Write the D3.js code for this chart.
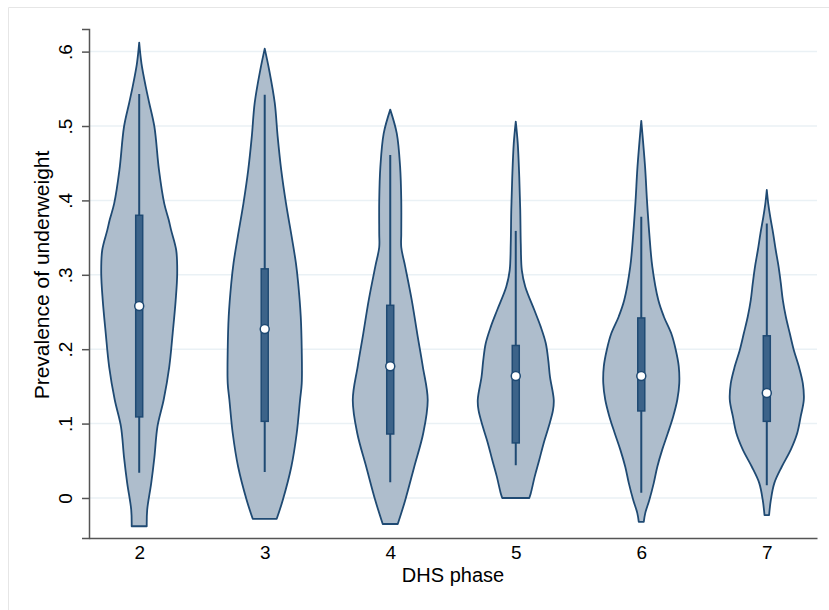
<!DOCTYPE html>
<html>
<head>
<meta charset="utf-8">
<script src="https://cdn.jsdelivr.net/npm/d3@7"></script>
<style>
	body { margin: 0; background: #fff; }
	text { font-family: "Liberation Sans", Arial, Helvetica, sans-serif; fill: #000; }
</style>
</head>
<body>
<div id="chart-area"></div>
<script>
/*
*    violin plot - prevalence of underweight by DHS phase
*/

const MARGIN = { LEFT: 89, RIGHT: 12, TOP: 29, BOTTOM: 72 }
const WIDTH = 829 - MARGIN.LEFT - MARGIN.RIGHT
const HEIGHT = 610 - MARGIN.TOP - MARGIN.BOTTOM

// categories
const phases = [2, 3, 4, 5, 6, 7]
const yTicks = [0, 0.1, 0.2, 0.3, 0.4, 0.5, 0.6]
const yTickLabels = ["0", ".1", ".2", ".3", ".4", ".5", ".6"]

// box plot stats per phase
const whiskLow = [0.034, 0.035, 0.021, 0.044, 0.007, 0.017]
const q1 = [0.109, 0.103, 0.086, 0.074, 0.117, 0.103]
const medians = [0.258, 0.227, 0.177, 0.164, 0.164, 0.141]
const q3 = [0.380, 0.308, 0.259, 0.205, 0.242, 0.218]
const whiskHigh = [0.543, 0.542, 0.461, 0.359, 0.378, 0.369]

// density [value, density] from top to bottom, per phase
const density2 = [[0.612, 0], [0.584, 0.3], [0.553, 0.86], [0.531, 1.32], [0.499, 2.0], [0.441, 2.6], [0.396, 3.29], [0.374, 3.88], [0.360, 4.2], [0.333, 4.87], [0.302, 5.0], [0.266, 4.8], [0.222, 4.41], [0.176, 3.95], [0.132, 3.22], [0.096, 2.4], [0.055, 2.0], [0.020, 1.58], [-0.016, 1.05], [-0.038, 0.99]]
const density3 = [[0.604, 0], [0.575, 0.59], [0.531, 1.32], [0.486, 1.7], [0.441, 2.17], [0.396, 2.8], [0.351, 3.55], [0.316, 4.1], [0.289, 4.4], [0.244, 4.74], [0.199, 4.87], [0.154, 4.87], [0.132, 4.65], [0.087, 4.21], [0.042, 3.5], [-0.003, 2.37], [-0.028, 1.58]]
const density4 = [[0.522, 0], [0.490, 0.86], [0.445, 1.3], [0.400, 1.45], [0.356, 1.45], [0.337, 1.45], [0.311, 1.97], [0.266, 2.83], [0.221, 3.55], [0.177, 4.28], [0.132, 4.93], [0.087, 4.34], [0.042, 3.16], [-0.003, 1.97], [-0.035, 0.99]]
const density5 = [[0.506, 0], [0.477, 0.26], [0.432, 0.46], [0.387, 0.59], [0.342, 0.66], [0.306, 0.8], [0.284, 1.25], [0.253, 2.43], [0.230, 3.29], [0.208, 3.95], [0.185, 4.28], [0.163, 4.5], [0.132, 5.0], [0.118, 4.9], [0.096, 4.34], [0.074, 3.68], [0.051, 3.09], [0.029, 2.5], [0.006, 1.97], [0.0, 1.78]]
const density6 = [[0.507, 0], [0.445, 0.5], [0.400, 0.75], [0.356, 1.05], [0.311, 1.45], [0.266, 2.24], [0.244, 2.96], [0.221, 3.95], [0.199, 4.54], [0.177, 4.93], [0.154, 5.0], [0.132, 4.74], [0.110, 4.21], [0.087, 3.49], [0.065, 2.76], [0.042, 2.11], [0.020, 1.64], [-0.003, 1.05], [-0.020, 0.53], [-0.032, 0.33]]
const density7 = [[0.414, 0], [0.395, 0.2], [0.378, 0.45], [0.356, 0.83], [0.333, 1.18], [0.311, 1.55], [0.289, 1.84], [0.266, 2.11], [0.244, 2.5], [0.221, 3.03], [0.199, 3.55], [0.177, 4.21], [0.154, 4.74], [0.132, 4.87], [0.110, 4.47], [0.087, 4.0], [0.065, 3.16], [0.042, 1.97], [0.020, 0.99], [-0.003, 0.53], [-0.023, 0.3]]
const densities = [density2, density3, density4, density5, density6, density7]

const NAVY = "#1f4a73"

const svgRoot = d3.select('#chart-area')
	.append("svg")
	.attr("width", WIDTH + MARGIN.LEFT + MARGIN.RIGHT)
	.attr("height", HEIGHT + MARGIN.TOP + MARGIN.BOTTOM)

// outer graph region edge
svgRoot.append("path")
	.attr("d", "M8.5,610 V7.5 H829")
	.attr("fill", "none")
	.attr("stroke", "#e6e6e6")
	.attr("stroke-width", 1)

const chart = svgRoot.append("g")
	.attr("transform", `translate(${MARGIN.LEFT}, ${MARGIN.TOP})`)

const x = d3.scaleLinear()
	.domain([1.6, 7.4])
	.range([0, WIDTH])

const y = d3.scaleLinear()
	.domain([-0.0538, 0.6304])
	.range([HEIGHT, 0])

const w = d3.scaleLinear()
	.domain([0, 5])
	.range([0, 38])

// grid lines
chart.append("g")
	.selectAll("line")
	.data(yTicks)
	.enter()
	.append("line")
	.attr("x1", 0)
	.attr("x2", WIDTH)
	.attr("y1", d => y(d))
	.attr("y2", d => y(d))
	.attr("stroke", "#eaf1f5")
	.attr("stroke-width", 1.5)

// y axis
const yAxis = d3.axisLeft(y)
	.tickValues(yTicks)
	.tickFormat((d, i) => yTickLabels[i])
	.tickSize(7)
	.tickPadding(3)

const yAxisGroup = chart.append("g").call(yAxis)
yAxisGroup.select(".domain").attr("stroke", "#555").attr("stroke-width", 1.5)
yAxisGroup.selectAll(".tick line").attr("stroke", "#555").attr("stroke-width", 1.5)
yAxisGroup.selectAll(".tick text")
	.attr("x", null)
	.attr("dy", null)
	.attr("transform", "translate(-17,0) rotate(-90)")
	.attr("text-anchor", "middle")
	.style("font-size", "19px")
	.style("font-family", "'Liberation Sans', Arial, sans-serif")
	.attr("fill", "#000")

// x axis
const xAxis = d3.axisBottom(x)
	.tickValues(phases)
	.tickFormat(d3.format("d"))
	.tickSize(0)
	.tickPadding(8)
	.tickSizeOuter(0)

const xAxisGroup = chart.append("g")
	.attr("transform", "translate(0," + HEIGHT + ")")
	.call(xAxis)
xAxisGroup.select(".domain").attr("stroke", "#555").attr("stroke-width", 1.5)
xAxisGroup.selectAll(".tick text")
	.style("font-size", "19px")
	.style("font-family", "'Liberation Sans', Arial, sans-serif")
	.attr("fill", "#000")

// axis titles
chart.append("text")
	.attr("x", WIDTH / 2)
	.attr("y", HEIGHT + 44)
	.attr("text-anchor", "middle")
	.style("font-size", "20px")
	.text("DHS phase")

chart.append("text")
	.attr("transform", "translate(" + (49 - MARGIN.LEFT) + "," + (275 - MARGIN.TOP) + ") rotate(-90)")
	.attr("text-anchor", "middle")
	.style("font-size", "21px")
	.text("Prevalence of underweight")

// violins
const violins = chart.selectAll(".violin")
	.data(phases)
	.enter()
	.append("g")
	.attr("class", "violin")

violins.append("path")
	.attr("d", (p, i) => d3.area()
		.y(d => y(d[0]))
		.x0(d => x(p) - w(d[1]))
		.x1(d => x(p) + w(d[1]))
		.curve(d3.curveCatmullRom.alpha(0.5))(densities[i].slice().reverse()))
	.attr("fill", "#aebdcc")
	.attr("stroke", NAVY)
	.attr("stroke-width", 1.8)
	.attr("stroke-linejoin", "round")

// whiskers
violins.append("line")
	.attr("x1", p => x(p))
	.attr("x2", p => x(p))
	.attr("y1", (p, i) => y(whiskLow[i]))
	.attr("y2", (p, i) => y(whiskHigh[i]))
	.attr("stroke", NAVY)
	.attr("stroke-width", 2)

// boxes
violins.append("rect")
	.attr("x", p => x(p) - 3.5)
	.attr("width", 7)
	.attr("y", (p, i) => y(q3[i]))
	.attr("height", (p, i) => y(q1[i]) - y(q3[i]))
	.attr("fill", "#3c6389")
	.attr("stroke", NAVY)
	.attr("stroke-width", 1.5)

// medians
violins.append("circle")
	.attr("cx", p => x(p))
	.attr("cy", (p, i) => y(medians[i]))
	.attr("r", 4.5)
	.attr("fill", "#fff")
	.attr("stroke", NAVY)
	.attr("stroke-width", 1.5)
</script>
</body>
</html>
